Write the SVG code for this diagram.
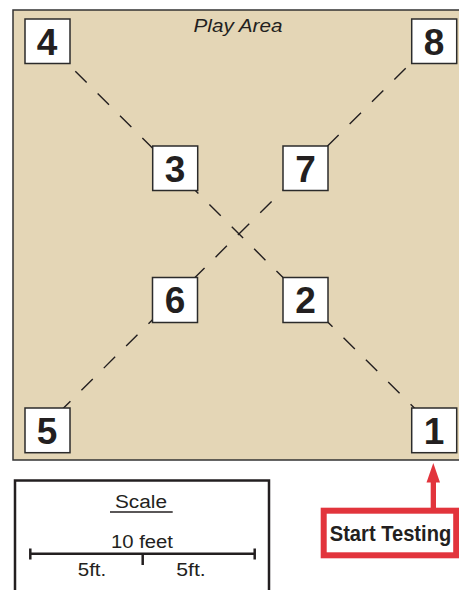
<svg xmlns="http://www.w3.org/2000/svg" width="459" height="590" viewBox="0 0 459 590">
<style>
.area{fill:#e4d6b6;stroke:#333;stroke-width:1.5}
.box{fill:#fff;stroke:#2b2b2b;stroke-width:1.5}
.num{font-family:"Liberation Sans",Arial,sans-serif;font-weight:bold;font-size:37px;fill:#231f20;text-anchor:middle}
.dash{fill:none;stroke:#231f20;stroke-width:1.4;stroke-dasharray:16 15.5}
.lbl{font-family:"Liberation Sans",Arial,sans-serif;fill:#231f20;text-anchor:middle}
</style>
<rect class="area" x="13" y="10" width="460" height="450"/>
<text class="lbl" x="238" y="32.3" font-size="19" font-style="italic" textLength="89" lengthAdjust="spacingAndGlyphs">Play Area</text>
<g id="connectors">
<path class="dash" d="M75.3,71.3 L420,413.6"/>
<path class="dash" d="M405.7,68.3 L60,411.6"/>
</g>
<g id="node4"><rect class="box" x="25" y="19" width="45" height="44.5"/><text class="num" x="47" y="54.5">4</text></g>
<g id="node8"><rect class="box" x="411.7" y="19" width="45" height="44.5"/><text class="num" x="434" y="54.5">8</text></g>
<g id="node3"><rect class="box" x="152.7" y="146" width="45" height="44.5"/><text class="num" x="175" y="181.5">3</text></g>
<g id="node7"><rect class="box" x="283" y="146" width="45" height="44.5"/><text class="num" x="305.5" y="181.5">7</text></g>
<g id="node6"><rect class="box" x="152.5" y="277.5" width="45" height="45"/><text class="num" x="175" y="313">6</text></g>
<g id="node2"><rect class="box" x="283" y="277.5" width="45" height="45"/><text class="num" x="305.5" y="313">2</text></g>
<g id="node5"><rect class="box" x="25" y="408" width="45" height="44.7"/><text class="num" x="47" y="443.5">5</text></g>
<g id="node1"><rect class="box" x="411.7" y="408" width="45" height="44.7"/><text class="num" x="434" y="443.5">1</text></g>
<g id="scale">
<rect x="15" y="480.5" width="254" height="130" fill="#fff" stroke="#231f20" stroke-width="2.5"/>
<text class="lbl" x="141" y="507.7" font-size="18" textLength="52" lengthAdjust="spacingAndGlyphs">Scale</text>
<line x1="110" y1="512" x2="172.7" y2="512" stroke="#231f20" stroke-width="1.5"/>
<text class="lbl" x="142" y="548.3" font-size="18" textLength="62" lengthAdjust="spacingAndGlyphs">10 feet</text>
<g stroke="#231f20" stroke-width="2.5" fill="none">
<line x1="30" y1="553.7" x2="255" y2="553.7"/>
<line x1="30.3" y1="548.5" x2="30.3" y2="559.5"/>
<line x1="254.7" y1="548.5" x2="254.7" y2="559.5"/>
<line x1="142.7" y1="553" x2="142.7" y2="565"/>
</g>
<text class="lbl" x="92" y="576" font-size="18" textLength="28.5" lengthAdjust="spacingAndGlyphs">5ft.</text>
<text class="lbl" x="191" y="576" font-size="18" textLength="29.5" lengthAdjust="spacingAndGlyphs">5ft.</text>
</g>
<g id="start">
<rect x="430.7" y="481" width="5.3" height="29" fill="#e2343c"/>
<polygon points="433.3,463 426.5,482.5 440,482.5" fill="#e2343c"/>
<rect x="323.7" y="510.7" width="132.5" height="44.6" fill="#fff" stroke="#e2343c" stroke-width="6"/>
<text class="lbl" x="390.5" y="541" font-size="21.5" font-weight="bold" textLength="121.5" lengthAdjust="spacingAndGlyphs">Start Testing</text>
</g>
</svg>
